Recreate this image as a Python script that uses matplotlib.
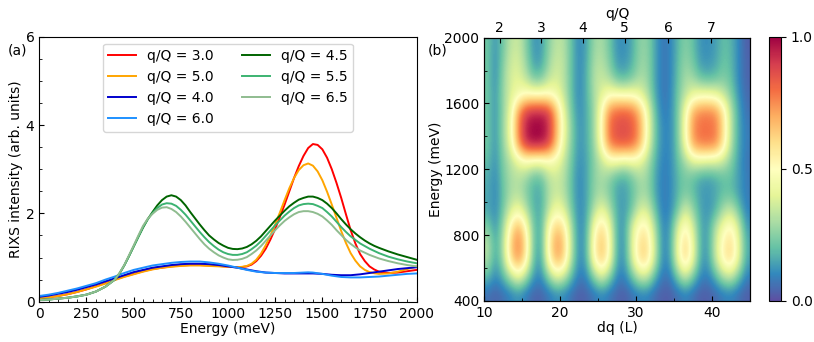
import numpy as np
import matplotlib
matplotlib.use("Agg")
import matplotlib.pyplot as plt
from matplotlib.ticker import MultipleLocator

# ---- panel (a): RIXS spectra ----
# 50 meV steps at the ends, 25 meV steps through the peaks
energy = np.concatenate([np.arange(0, 400, 50), np.arange(400, 1801, 25), np.arange(1850, 2001, 50)])

q30 = [0.07, 0.10, 0.13, 0.17, 0.22, 0.28, 0.35, 0.42,
       0.50, 0.535, 0.57, 0.60, 0.63, 0.66, 0.69, 0.715, 0.74, 0.755, 0.77, 0.785, 0.80, 0.81, 0.82,
       0.825, 0.83, 0.83, 0.83, 0.825, 0.82, 0.815, 0.81, 0.80, 0.79, 0.785, 0.78, 0.785, 0.80, 0.84,
       0.92, 1.04, 1.20, 1.41, 1.65, 1.92, 2.20, 2.50, 2.80, 3.07, 3.30, 3.48, 3.57, 3.55, 3.45, 3.26,
       3.00, 2.69, 2.35, 1.98, 1.62, 1.32, 1.08, 0.92, 0.80, 0.73, 0.68,
       0.65, 0.66, 0.69, 0.72]
q50 = [0.08, 0.10, 0.13, 0.17, 0.22, 0.28, 0.34, 0.41,
       0.49, 0.525, 0.56, 0.59, 0.62, 0.65, 0.68, 0.705, 0.73, 0.75, 0.77, 0.78, 0.79, 0.80, 0.81,
       0.815, 0.82, 0.82, 0.82, 0.815, 0.81, 0.805, 0.80, 0.795, 0.79, 0.785, 0.78, 0.79, 0.81, 0.86,
       0.95, 1.09, 1.28, 1.50, 1.75, 2.02, 2.30, 2.57, 2.80, 2.98, 3.09, 3.13, 3.08, 2.95, 2.75, 2.49,
       2.20, 1.90, 1.60, 1.33, 1.10, 0.93, 0.80, 0.72, 0.67, 0.645, 0.63,
       0.64, 0.68, 0.74, 0.80]
q40 = [0.11, 0.14, 0.18, 0.22, 0.27, 0.33, 0.39, 0.46,
       0.53, 0.565, 0.60, 0.635, 0.67, 0.695, 0.72, 0.745, 0.77, 0.785, 0.80, 0.815, 0.83, 0.84, 0.85,
       0.855, 0.86, 0.86, 0.86, 0.855, 0.85, 0.84, 0.83, 0.815, 0.80, 0.785, 0.77, 0.75, 0.73, 0.71,
       0.69, 0.675, 0.66, 0.655, 0.65, 0.645, 0.64, 0.64, 0.64, 0.64, 0.64, 0.64, 0.64, 0.635, 0.63, 0.62,
       0.61, 0.605, 0.60, 0.60, 0.60, 0.61, 0.62, 0.635, 0.65, 0.665, 0.68,
       0.71, 0.74, 0.76, 0.78]
q60 = [0.13, 0.16, 0.20, 0.25, 0.30, 0.36, 0.42, 0.50,
       0.57, 0.61, 0.65, 0.685, 0.72, 0.745, 0.77, 0.795, 0.82, 0.835, 0.85, 0.865, 0.88, 0.89, 0.90,
       0.905, 0.91, 0.91, 0.91, 0.90, 0.89, 0.875, 0.86, 0.84, 0.82, 0.795, 0.77, 0.745, 0.72, 0.70,
       0.68, 0.67, 0.66, 0.655, 0.65, 0.65, 0.65, 0.65, 0.65, 0.655, 0.66, 0.665, 0.66, 0.645, 0.63, 0.61,
       0.59, 0.575, 0.56, 0.555, 0.55, 0.55, 0.55, 0.555, 0.56, 0.565, 0.57,
       0.59, 0.61, 0.63, 0.64]
q45 = [0.04, 0.05, 0.07, 0.09, 0.12, 0.16, 0.23, 0.34,
       0.50, 0.64, 0.82, 1.03, 1.25, 1.47, 1.68, 1.87, 2.03, 2.18, 2.30, 2.38, 2.41, 2.38, 2.30,
       2.18, 2.03, 1.89, 1.75, 1.62, 1.50, 1.41, 1.33, 1.27, 1.22, 1.195, 1.19, 1.205, 1.24, 1.30,
       1.38, 1.48, 1.60, 1.72, 1.84, 1.95, 2.06, 2.16, 2.24, 2.31, 2.35, 2.38, 2.38, 2.35, 2.30, 2.22,
       2.12, 2.00, 1.87, 1.75, 1.64, 1.545, 1.46, 1.385, 1.32, 1.265, 1.22,
       1.14, 1.07, 1.01, 0.95]
q55 = [0.04, 0.05, 0.07, 0.09, 0.12, 0.16, 0.23, 0.34,
       0.50, 0.64, 0.82, 1.03, 1.25, 1.47, 1.69, 1.87, 2.01, 2.12, 2.20, 2.23, 2.22, 2.17, 2.08,
       1.97, 1.84, 1.71, 1.58, 1.46, 1.35, 1.26, 1.18, 1.12, 1.08, 1.06, 1.06, 1.08, 1.12, 1.19,
       1.27, 1.37, 1.49, 1.61, 1.73, 1.84, 1.95, 2.04, 2.12, 2.18, 2.21, 2.22, 2.21, 2.17, 2.12, 2.03,
       1.93, 1.81, 1.69, 1.58, 1.48, 1.40, 1.32, 1.26, 1.20, 1.15, 1.10,
       1.02, 0.96, 0.91, 0.87]
q65 = [0.04, 0.05, 0.07, 0.09, 0.12, 0.16, 0.23, 0.34,
       0.50, 0.65, 0.83, 1.05, 1.27, 1.50, 1.72, 1.88, 1.99, 2.08, 2.13, 2.14, 2.10, 2.03, 1.93,
       1.81, 1.68, 1.55, 1.42, 1.30, 1.20, 1.12, 1.05, 1.00, 0.96, 0.945, 0.95, 0.97, 1.01, 1.08,
       1.16, 1.26, 1.38, 1.50, 1.62, 1.73, 1.83, 1.91, 1.98, 2.03, 2.05, 2.05, 2.03, 1.99, 1.93, 1.84,
       1.74, 1.62, 1.51, 1.40, 1.31, 1.23, 1.16, 1.11, 1.06, 1.02, 0.98,
       0.92, 0.87, 0.83, 0.80]

spectra = [q30, q50, q40, q60, q45, q55, q65]
labels = ["q/Q = 3.0", "q/Q = 5.0", "q/Q = 4.0", "q/Q = 6.0", "q/Q = 4.5", "q/Q = 5.5", "q/Q = 6.5"]
colors = ["red", "orange", "mediumblue", "dodgerblue", "darkgreen", "mediumseagreen", "darkseagreen"]

# ---- panel (b): intensity map, 1 L columns (10..45), rows 100 meV from 2000 (top) to 400 ----
dq_edges = (10, 45)
e_edges = (400, 2000)
imap = np.array([
    [0.22, 0.12, 0.22, 0.33, 0.36, 0.25, 0.13, 0.13, 0.25, 0.33, 0.32, 0.20, 0.10, 0.15, 0.28, 0.30, 0.22, 0.12, 0.11, 0.16, 0.26, 0.26, 0.15, 0.07, 0.09, 0.18, 0.25, 0.20, 0.12, 0.11, 0.14, 0.20, 0.18, 0.10, 0.03],
    [0.22, 0.11, 0.24, 0.36, 0.38, 0.28, 0.14, 0.14, 0.27, 0.36, 0.33, 0.20, 0.10, 0.16, 0.30, 0.32, 0.24, 0.13, 0.12, 0.17, 0.27, 0.27, 0.15, 0.07, 0.09, 0.19, 0.27, 0.22, 0.13, 0.12, 0.15, 0.21, 0.19, 0.10, 0.04],
    [0.22, 0.11, 0.26, 0.38, 0.40, 0.33, 0.22, 0.22, 0.33, 0.38, 0.33, 0.20, 0.10, 0.17, 0.32, 0.35, 0.30, 0.20, 0.18, 0.23, 0.30, 0.28, 0.15, 0.07, 0.09, 0.20, 0.30, 0.28, 0.20, 0.18, 0.20, 0.24, 0.20, 0.10, 0.04],
    [0.22, 0.12, 0.27, 0.38, 0.45, 0.50, 0.50, 0.50, 0.50, 0.45, 0.35, 0.20, 0.10, 0.17, 0.30, 0.40, 0.48, 0.48, 0.47, 0.47, 0.42, 0.32, 0.16, 0.07, 0.09, 0.22, 0.33, 0.42, 0.45, 0.45, 0.43, 0.35, 0.25, 0.12, 0.05],
    [0.22, 0.12, 0.26, 0.42, 0.72, 0.90, 0.94, 0.94, 0.90, 0.68, 0.42, 0.22, 0.11, 0.16, 0.28, 0.50, 0.76, 0.82, 0.83, 0.80, 0.68, 0.45, 0.20, 0.08, 0.10, 0.22, 0.45, 0.70, 0.76, 0.77, 0.74, 0.58, 0.32, 0.15, 0.06],
    [0.22, 0.12, 0.27, 0.45, 0.76, 0.95, 1.00, 1.00, 0.93, 0.70, 0.45, 0.25, 0.12, 0.16, 0.28, 0.52, 0.80, 0.86, 0.87, 0.84, 0.72, 0.48, 0.22, 0.10, 0.10, 0.22, 0.48, 0.74, 0.80, 0.80, 0.78, 0.60, 0.33, 0.15, 0.08],
    [0.22, 0.12, 0.26, 0.42, 0.73, 0.93, 0.98, 0.97, 0.90, 0.67, 0.42, 0.24, 0.12, 0.16, 0.27, 0.50, 0.77, 0.84, 0.85, 0.82, 0.70, 0.45, 0.21, 0.10, 0.10, 0.22, 0.45, 0.72, 0.78, 0.79, 0.76, 0.58, 0.32, 0.15, 0.08],
    [0.20, 0.11, 0.24, 0.32, 0.42, 0.48, 0.45, 0.45, 0.48, 0.45, 0.35, 0.22, 0.11, 0.15, 0.25, 0.35, 0.45, 0.45, 0.42, 0.45, 0.42, 0.32, 0.18, 0.09, 0.10, 0.20, 0.30, 0.40, 0.42, 0.40, 0.40, 0.35, 0.25, 0.14, 0.07],
    [0.17, 0.10, 0.22, 0.30, 0.32, 0.28, 0.20, 0.20, 0.32, 0.36, 0.32, 0.20, 0.10, 0.15, 0.26, 0.30, 0.25, 0.18, 0.16, 0.22, 0.30, 0.28, 0.16, 0.08, 0.10, 0.18, 0.23, 0.20, 0.15, 0.14, 0.16, 0.20, 0.20, 0.14, 0.08],
    [0.16, 0.10, 0.20, 0.30, 0.32, 0.25, 0.17, 0.16, 0.30, 0.36, 0.32, 0.20, 0.10, 0.15, 0.26, 0.30, 0.24, 0.15, 0.14, 0.20, 0.28, 0.28, 0.16, 0.08, 0.10, 0.18, 0.24, 0.20, 0.14, 0.13, 0.16, 0.20, 0.20, 0.14, 0.08],
    [0.16, 0.10, 0.22, 0.37, 0.45, 0.33, 0.18, 0.16, 0.33, 0.45, 0.40, 0.23, 0.10, 0.15, 0.32, 0.43, 0.32, 0.16, 0.13, 0.22, 0.38, 0.38, 0.21, 0.08, 0.10, 0.22, 0.38, 0.27, 0.15, 0.12, 0.17, 0.30, 0.35, 0.22, 0.09],
    [0.24, 0.12, 0.27, 0.54, 0.70, 0.52, 0.22, 0.15, 0.48, 0.64, 0.58, 0.30, 0.10, 0.16, 0.47, 0.60, 0.45, 0.16, 0.13, 0.38, 0.53, 0.53, 0.30, 0.10, 0.13, 0.38, 0.53, 0.38, 0.16, 0.14, 0.32, 0.46, 0.53, 0.37, 0.13],
    [0.33, 0.15, 0.30, 0.63, 0.78, 0.60, 0.22, 0.14, 0.53, 0.73, 0.66, 0.33, 0.10, 0.17, 0.53, 0.67, 0.50, 0.16, 0.12, 0.40, 0.60, 0.60, 0.35, 0.10, 0.14, 0.44, 0.62, 0.44, 0.16, 0.14, 0.36, 0.54, 0.60, 0.43, 0.16],
    [0.31, 0.14, 0.28, 0.60, 0.74, 0.57, 0.20, 0.13, 0.50, 0.70, 0.63, 0.31, 0.10, 0.16, 0.51, 0.65, 0.48, 0.15, 0.12, 0.38, 0.60, 0.60, 0.34, 0.10, 0.13, 0.43, 0.62, 0.43, 0.15, 0.13, 0.35, 0.54, 0.60, 0.42, 0.15],
    [0.20, 0.10, 0.18, 0.32, 0.45, 0.31, 0.13, 0.10, 0.26, 0.42, 0.36, 0.19, 0.08, 0.10, 0.26, 0.40, 0.26, 0.10, 0.09, 0.21, 0.36, 0.36, 0.18, 0.07, 0.08, 0.23, 0.37, 0.23, 0.10, 0.09, 0.18, 0.32, 0.36, 0.22, 0.09],
    [0.06, 0.04, 0.06, 0.09, 0.12, 0.08, 0.04, 0.04, 0.07, 0.11, 0.10, 0.06, 0.03, 0.04, 0.07, 0.10, 0.07, 0.04, 0.03, 0.06, 0.09, 0.09, 0.05, 0.03, 0.03, 0.06, 0.09, 0.06, 0.03, 0.03, 0.05, 0.08, 0.09, 0.06, 0.03],
])

# top axis: q/Q labels and where they sit on the dq scale
qQ_labels = ["2", "3", "4", "5", "6", "7"]
qQ_pos = [12.0, 17.5, 23.0, 28.5, 34.2, 39.9]

plt.rcParams["font.size"] = 10
fig = plt.figure(figsize=(8.14, 3.42), dpi=100)

ax1 = fig.add_axes([0.0483, 0.1178, 0.4636, 0.7749])
for y, lab, c in zip(spectra, labels, colors):
    ax1.plot(energy, y, color=c, lw=1.4, label=lab)
ax1.set_xlim(0, 2000)
ax1.set_ylim(0, 6)
ax1.xaxis.set_major_locator(MultipleLocator(250))
ax1.xaxis.set_minor_locator(MultipleLocator(50))
ax1.yaxis.set_major_locator(MultipleLocator(2))
ax1.yaxis.set_minor_locator(MultipleLocator(0.5))
ax1.tick_params(which="both", direction="in")
ax1.set_xlabel("Energy (meV)", labelpad=1)
ax1.set_ylabel("RIXS intensity (arb. units)", labelpad=2)
ax1.legend(loc="upper center", ncol=2)
fig.text(0.009, 0.842, "(a)")

ax2 = fig.add_axes([0.595, 0.1199, 0.3264, 0.770])
im = ax2.imshow(imap, extent=[dq_edges[0], dq_edges[1], e_edges[0], e_edges[1]], aspect="auto",
                origin="upper", cmap="Spectral_r", vmin=0, vmax=1, interpolation="bicubic")
ax2.set_xlim(10, 45)
ax2.set_ylim(400, 2000)
ax2.xaxis.set_major_locator(MultipleLocator(10))
ax2.xaxis.set_minor_locator(MultipleLocator(5))
ax2.yaxis.set_major_locator(MultipleLocator(400))
ax2.yaxis.set_minor_locator(MultipleLocator(200))
ax2.tick_params(which="both", direction="in")
ax2.set_xlabel("dq (L)", labelpad=1)
ax2.set_ylabel("Energy (meV)", labelpad=1)

ax3 = ax2.twiny()
ax3.set_xlim(ax2.get_xlim())
ax3.set_xticks(qQ_pos)
ax3.set_xticklabels(qQ_labels)
ax3.tick_params(direction="in", pad=2)
ax3.set_xlabel("q/Q", labelpad=2)
fig.text(0.526, 0.842, "(b)")

cax = fig.add_axes([0.9451, 0.1199, 0.0144, 0.772])
cb = fig.colorbar(im, cax=cax, ticks=[0.0, 0.5, 1.0])
cb.ax.set_yticklabels(["0.0", "0.5", "1.0"])

fig.savefig("out.png", dpi=100)
